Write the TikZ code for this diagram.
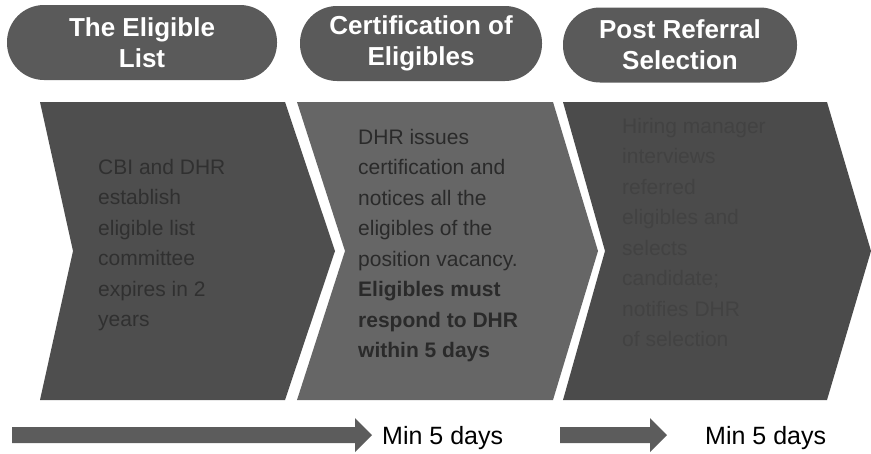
\documentclass[tikz,border=0pt]{standalone}
\usepackage{fontspec}
\setmainfont{Liberation Sans}
\definecolor{pillgray}{HTML}{5A5A5A}
\definecolor{chevA}{HTML}{4E4E4E}
\definecolor{chevB}{HTML}{666666}
\definecolor{chevC}{HTML}{4B4B4B}
\definecolor{arrgray}{HTML}{5C5C5C}
\definecolor{ctextA}{HTML}{303030}
\definecolor{ctextB}{HTML}{2A2A2A}
\definecolor{ctextC}{HTML}{424242}
\begin{document}
\begin{tikzpicture}[x=1pt,y=-1pt,
  pill/.style={fill=pillgray, draw=none, text=white, align=center,
    font=\bfseries\fontsize{26}{31}\selectfont, minimum height=75, rounded corners=37, inner sep=0},
  chevtext/.style={anchor=north west, align=left, inner sep=0,
    font=\fontsize{21}{30.5}\selectfont},
  daylabel/.style={anchor=base west, inner sep=0, font=\fontsize{25}{30}\selectfont, text=black}]
\useasboundingbox (0,0) rectangle (871,453);

% header pills
\node[pill, minimum width=270] (p1) at (142,42.5) {The Eligible\\List};
\node[pill, minimum width=242] (p2) at (421,43.5) {Certification of\\Eligibles};
\node[pill, minimum width=234] (p3) at (680,45) {Post Referral\\Selection};

% chevrons
\fill[chevA] (40,102) -- (285,102) -- (335,251) -- (285,400) -- (40,400) -- (73,251) -- cycle;
\fill[chevB] (297,102) -- (553,102) -- (598,251) -- (553,400) -- (297,400) -- (345,251) -- cycle;
\fill[chevC] (563,102) -- (827,102) -- (871,251) -- (827,400) -- (563,400) -- (605,251) -- cycle;

% chevron texts
\node[chevtext, text=ctextA] (t1) at (98,159) {CBI and DHR\\establish\\eligible list\\committee\\expires in 2\\years};
\node[chevtext, text=ctextB] (t2) at (358,129) {DHR issues\\certification and\\notices all the\\eligibles of the\\position vacancy.\\\textbf{Eligibles must}\\\textbf{respond to DHR}\\\textbf{within 5 days}};
\node[chevtext, text=ctextC] (t3) at (622,118) {Hiring manager\\interviews\\referred\\eligibles and\\selects\\candidate;\\notifies DHR\\of selection};

% bottom arrows
\fill[arrgray] (12,427) -- (355,427) -- (355,418) -- (372,435) -- (355,452) -- (355,443) -- (12,443) -- cycle;
\fill[arrgray] (560,427) -- (650,427) -- (650,418) -- (667,435) -- (650,452) -- (650,443) -- (560,443) -- cycle;
\node[daylabel] (d1) at (382,444) {Min 5 days};
\node[daylabel] (d2) at (705,444) {Min 5 days};
\end{tikzpicture}
\end{document}
